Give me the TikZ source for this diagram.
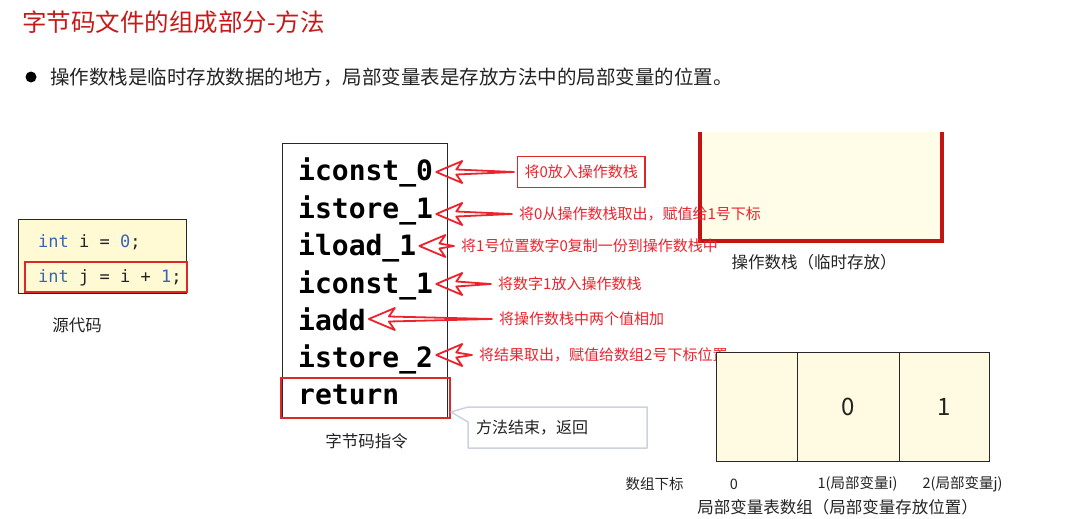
\documentclass[tikz,border=0pt]{standalone}
\usepackage{fontspec}
\setmainfont{Noto Sans CJK SC}
\setmonofont{DejaVu Sans Mono}
\usetikzlibrary{calc}

\definecolor{titlered}{RGB}{200,25,25}
\definecolor{lblred}{RGB}{235,35,45}
\definecolor{boxred}{RGB}{220,40,40}
\definecolor{stackred}{RGB}{195,20,20}
\definecolor{txtdark}{RGB}{35,35,35}
\definecolor{codebg}{RGB}{255,250,212}
\definecolor{lvbg}{RGB}{255,250,226}
\definecolor{stackbg}{RGB}{255,252,232}
\definecolor{codeblue}{RGB}{55,100,185}
\definecolor{celledge}{RGB}{40,40,40}
\definecolor{callgray}{RGB}{205,210,225}

\begin{document}
\begin{tikzpicture}
  [x=1pt,y=-1pt,
   redlbl/.style={text=lblred,font=\fontsize{15}{18}\selectfont,anchor=west,inner sep=4pt},
   ins/.style={font=\ttfamily\bfseries\fontsize{28}{30}\selectfont,anchor=base west,inner sep=3pt},
   srcline/.style={font=\ttfamily\fontsize{17}{20}\selectfont,anchor=west,inner sep=0pt,text=txtdark},
   captxt/.style={text=txtdark,font=\fontsize{16.5}{18}\selectfont},
   idx/.style={text=txtdark,font=\fontsize{14.5}{16}\selectfont},
   lvcell/.style={draw=celledge,fill=lvbg,line width=1pt,minimum height=109pt,inner sep=0pt,text=txtdark,font=\fontsize{24}{24}\selectfont},
   hollow/.style={draw=lblred,line width=1.8pt,line join=round,
     to path={let \p1=(\tikztostart),\p2=(\tikztotarget) in
       (\x1-3pt,\y1) -- (\x2+20pt,\y1-2.5pt) -- (\x2+26pt,\y1-11pt) -- (\x2,\y1)
       -- (\x2+26pt,\y1+11pt) -- (\x2+20pt,\y1+2.5pt) -- cycle}}]
  \useasboundingbox (0,0) rectangle (1081,519);

  % heading
  \node[anchor=west,inner sep=0pt,text=titlered,font=\fontsize{24.5}{26}\selectfont] (title) at (22,22) {字节码文件的组成部分-方法};
  \fill[black] (31,77) circle (5.5);
  \node[anchor=west,inner sep=0pt,text=txtdark,font=\fontsize{19.5}{22}\selectfont] (bullet) at (50,77) {操作数栈是临时存放数据的地方，局部变量表是存放方法中的局部变量的位置。};

  % operand stack
  \fill[stackbg] (700,132) rectangle (942,241);
  \draw[stackred,line width=4pt,line join=miter] (700,132) -- (700,241) -- (942,241) -- (942,132);
  \node[captxt] (stackcap) at (814,262) {操作数栈（临时存放）};

  % source code
  \node[draw=celledge,fill=codebg,line width=1pt,minimum width=168pt,minimum height=74pt] (src) at (102,256) {};
  \node[srcline] (s1) at (38,242) {{\color{codeblue}int} i = {\color{codeblue}0};};
  \node[srcline] (s2) at (38,278) {{\color{codeblue}int} j = i + {\color{codeblue}1};};
  \node[draw=boxred,line width=1.3pt,minimum width=162pt,minimum height=30pt] (s2box) at (106,277) {};
  \node[captxt] (srccap) at (77,325) {源代码};

  % bytecode
  \draw[celledge,line width=1pt] (282,143) rectangle (447,418);
  \node[ins] (i1) at (295,180) {iconst\_0};
  \node[ins] (i2) at (295,218) {istore\_1};
  \node[ins] (i3) at (295,255) {iload\_1};
  \node[ins] (i4) at (295,293) {iconst\_1};
  \node[ins] (i5) at (295,330) {iadd};
  \node[ins] (i6) at (295,367) {istore\_2};
  \node[ins] (i7) at (295,404) {return};
  \node[draw=boxred,fill=none,line width=1.3pt,minimum width=169pt,minimum height=40pt] (retbox) at (365.5,398) {};
  \node[captxt] (bccap) at (366.5,441) {字节码指令};

  % comments
  \node[redlbl,draw=boxred,line width=1.3pt,inner sep=7pt,minimum height=31pt] (l1) at (517,172) {将0放入操作数栈};
  \node[redlbl] (l2) at (515,214) {将0从操作数栈取出，赋值给1号下标};
  \node[redlbl] (l3) at (457,246) {将1号位置数字0复制一份到操作数栈中};
  \node[redlbl] (l4) at (494,284) {将数字1放入操作数栈};
  \node[redlbl] (l5) at (495,319) {将操作数栈中两个值相加};
  \node[redlbl] (l6) at (475,355) {将结果取出，赋值给数组2号下标位置};

  \draw[hollow] (l1.west) to (i1.east);
  \draw[hollow] (l2.west) to (i2.east);
  \draw[hollow] (l3.west) to (i3.east);
  \draw[hollow] (l4.west) to (i4.east);
  \draw[hollow] (l5.west) to (i5.east);
  \draw[hollow] (l6.west) to (i6.east);

  % callout
  \draw[callgray,fill=white,line width=1.5pt,line join=round] (468,407) -- (647,407) -- (647,448) -- (468,448) -- (468,422) -- (451,412) -- cycle;
  \node[anchor=west,inner sep=0pt,text=txtdark,font=\fontsize{16}{18}\selectfont] (call) at (476,428) {方法结束，返回};

  % local variable table
  \node[lvcell,minimum width=81pt] (lv0) at (756.5,406.5) {};
  \node[lvcell,minimum width=102pt] (lv1) at (848,406.5) {0};
  \node[lvcell,minimum width=90pt] (lv2) at (944,406.5) {1};
  \node[idx] (k) at (654.5,484) {数组下标};
  \node[idx] (k0) at (734,484) {0};
  \node[idx] (k1) at (857.5,484) {1(局部变量i)};
  \node[idx] (k2) at (962.5,484) {2(局部变量j)};
  \node[captxt] (lvcap) at (837.5,507) {局部变量表数组（局部变量存放位置）};
\end{tikzpicture}
\end{document}
